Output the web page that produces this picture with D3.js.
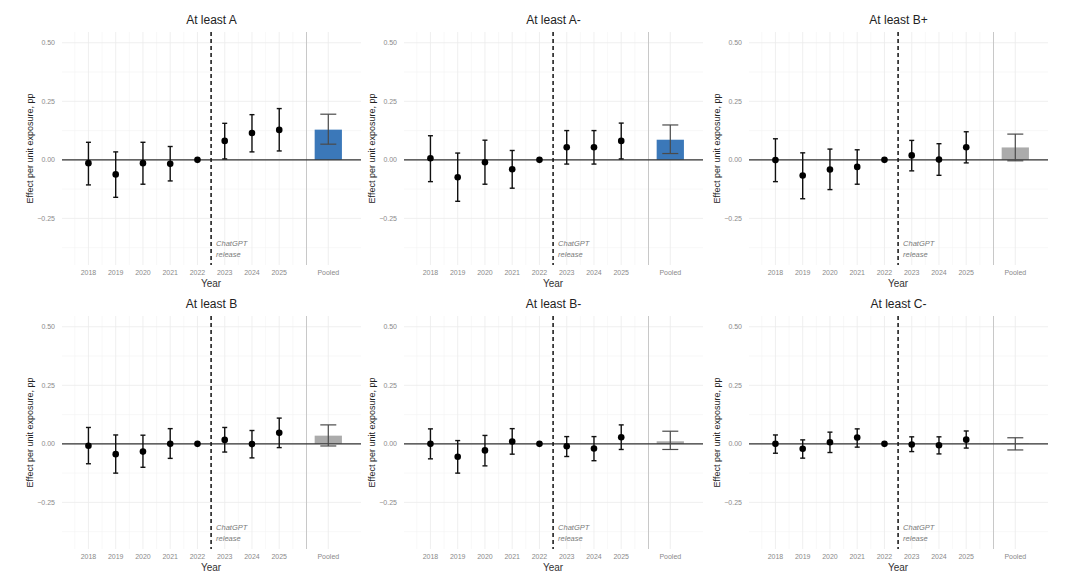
<!DOCTYPE html>
<html>
<head>
<meta charset="utf-8">
<script src="https://cdn.jsdelivr.net/npm/d3@7"></script>
<style>
  body { margin: 0; background: #fff; }
  svg { display: block; font-family: "Liberation Sans", Arial, sans-serif; }
</style>
</head>
<body>
<svg id="mainSvg" width="1080" height="586"></svg>
<script>
// grade thresholds, one panel each
let titles = ["At least A", "At least A-", "At least B+", "At least B", "At least B-", "At least C-"];
let years = [2018, 2019, 2020, 2021, 2022, 2023, 2024, 2025];

// yearly estimates (2022 = reference year, no interval)
let est = [
    [-0.014, -0.062, -0.014, -0.017, 0, 0.081, 0.115, 0.128],
    [0.007, -0.074, -0.010, -0.040, 0, 0.054, 0.054, 0.081],
    [-0.001, -0.067, -0.041, -0.030, 0, 0.019, 0.001, 0.054],
    [-0.008, -0.044, -0.033, 0.000, 0, 0.017, -0.001, 0.047],
    [0.000, -0.055, -0.028, 0.010, 0, -0.010, -0.020, 0.028],
    [0.000, -0.021, 0.007, 0.027, 0, -0.003, -0.006, 0.018],
];
let lo = [
    [-0.107, -0.160, -0.104, -0.090, null, 0.004, 0.034, 0.038],
    [-0.093, -0.177, -0.104, -0.121, null, -0.018, -0.018, 0.004],
    [-0.093, -0.166, -0.127, -0.104, null, -0.047, -0.066, -0.013],
    [-0.085, -0.125, -0.100, -0.062, null, -0.035, -0.060, -0.016],
    [-0.064, -0.125, -0.094, -0.044, null, -0.054, -0.072, -0.024],
    [-0.040, -0.061, -0.037, -0.014, null, -0.033, -0.043, -0.018],
];
let hi = [
    [0.075, 0.034, 0.075, 0.057, null, 0.156, 0.193, 0.219],
    [0.103, 0.029, 0.084, 0.040, null, 0.125, 0.125, 0.157],
    [0.090, 0.030, 0.046, 0.043, null, 0.083, 0.069, 0.120],
    [0.070, 0.038, 0.037, 0.065, null, 0.070, 0.057, 0.110],
    [0.064, 0.014, 0.036, 0.065, null, 0.031, 0.031, 0.081],
    [0.038, 0.017, 0.050, 0.064, null, 0.030, 0.030, 0.055],
];

// pooled post-period effect
let pooledEst = [0.129, 0.086, 0.053, 0.035, 0.011, 0.002];
let pooledLo = [0.067, 0.027, -0.004, -0.009, -0.024, -0.026];
let pooledHi = [0.195, 0.149, 0.110, 0.081, 0.054, 0.026];

let yTicks = [-0.25, 0, 0.25, 0.5];

// layout
let panelLeft = [62, 404, 749];
let panelTop = [32, 316];
let pw = 299, ph = 233;
let pooledX = 2026.8, sepX = 2026, releaseX = 2022.5;

let svg = d3.select("#mainSvg");

let drawPanel = function (k) {
    let col = k % 3, row = Math.floor(k / 3);
    let g = svg.append("g")
        .attr("transform", `translate(${panelLeft[col]},${panelTop[row]})`);

    let x = d3.scaleLinear().domain([2017.03, 2028.0]).range([0, pw]);
    let y = d3.scaleLinear().domain([-0.449, 0.546]).range([ph, 0]);

    // grid: minor then major
    let minorY = [-0.375, -0.125, 0.125, 0.375];
    g.selectAll(".gym").data(minorY).join("line")
        .attr("x1", 0).attr("x2", pw)
        .attr("y1", (d) => y(d)).attr("y2", (d) => y(d))
        .attr("stroke", "#f4f4f4").attr("stroke-width", 0.6);
    let minorX = years.map((d) => d + 0.5).concat([2017.5]);
    g.selectAll(".gxm").data(minorX).join("line")
        .attr("x1", (d) => x(d)).attr("x2", (d) => x(d))
        .attr("y1", 0).attr("y2", ph)
        .attr("stroke", "#f4f4f4").attr("stroke-width", 0.6);
    g.selectAll(".gy").data(yTicks).join("line")
        .attr("x1", 0).attr("x2", pw)
        .attr("y1", (d) => y(d)).attr("y2", (d) => y(d))
        .attr("stroke", "#ebebeb").attr("stroke-width", 0.8);
    g.selectAll(".gx").data(years.concat([pooledX])).join("line")
        .attr("x1", (d) => x(d)).attr("x2", (d) => x(d))
        .attr("y1", 0).attr("y2", ph)
        .attr("stroke", "#ebebeb").attr("stroke-width", 0.8);

    // y tick labels
    g.selectAll(".yt").data(yTicks).join("text")
        .attr("x", -7).attr("y", (d) => y(d)).attr("dy", "0.35em")
        .attr("text-anchor", "end").attr("font-size", 7).attr("fill", "#8a8a8a")
        .text((d) => d3.format(".2f")(d));

    // x tick labels
    g.selectAll(".xt").data(years).join("text")
        .attr("x", (d) => x(d)).attr("y", ph + 10)
        .attr("text-anchor", "middle").attr("font-size", 7).attr("fill", "#8a8a8a")
        .text((d) => d);
    g.append("text")
        .attr("x", x(pooledX)).attr("y", ph + 10)
        .attr("text-anchor", "middle").attr("font-size", 7).attr("fill", "#8a8a8a")
        .text("Pooled");

    // separator before pooled
    g.append("line")
        .attr("x1", x(sepX)).attr("x2", x(sepX))
        .attr("y1", 0).attr("y2", ph)
        .attr("stroke", "#c8c8c8").attr("stroke-width", 1);

    // pooled bar
    let sig = pooledLo[k] > 0;
    let bw = x(2027.3) - x(2026.3);
    let y0 = y(0), yb = y(pooledEst[k]);
    g.append("rect")
        .attr("x", x(pooledX) - bw / 2).attr("width", bw)
        .attr("y", Math.min(y0, yb)).attr("height", Math.abs(y0 - yb))
        .attr("fill", sig ? "#3b78b9" : "#ababab");

    // zero line
    g.append("line")
        .attr("x1", 0).attr("x2", pw)
        .attr("y1", y0).attr("y2", y0)
        .attr("stroke", "#333").attr("stroke-width", 1.2);

    // pooled error bar
    let pc = x(pooledX), cw = 8;
    let pe = g.append("g").attr("stroke", "#4a4a4a").attr("stroke-width", 1.2);
    pe.append("line").attr("x1", pc).attr("x2", pc)
        .attr("y1", y(pooledLo[k])).attr("y2", y(pooledHi[k]));
    [pooledLo[k], pooledHi[k]].forEach((v) => {
        pe.append("line").attr("x1", pc - cw).attr("x2", pc + cw)
            .attr("y1", y(v)).attr("y2", y(v));
    });

    // release line
    g.append("line")
        .attr("x1", x(releaseX)).attr("x2", x(releaseX))
        .attr("y1", 0).attr("y2", ph)
        .attr("stroke", "#111").attr("stroke-width", 1.5)
        .attr("stroke-dasharray", "4,3");
    let note = g.append("text")
        .attr("font-size", 7.5).attr("font-style", "italic").attr("fill", "#7a7a7a");
    note.append("tspan").attr("x", x(releaseX) + 5).attr("y", ph - 19).text("ChatGPT");
    note.append("tspan").attr("x", x(releaseX) + 5).attr("y", ph - 8).text("release");

    // yearly estimates
    let pts = years.map((yr, i) => ({ yr: yr, e: est[k][i], lo: lo[k][i], hi: hi[k][i] }));
    let withCi = pts.filter((d) => d.lo !== null);
    g.selectAll(".eb").data(withCi).join("line")
        .attr("x1", (d) => x(d.yr)).attr("x2", (d) => x(d.yr))
        .attr("y1", (d) => y(d.lo)).attr("y2", (d) => y(d.hi))
        .attr("stroke", "#111").attr("stroke-width", 1.4);
    ["lo", "hi"].forEach((key) => {
        g.selectAll(".cap" + key).data(withCi).join("line")
            .attr("x1", (d) => x(d.yr) - 2.5).attr("x2", (d) => x(d.yr) + 2.5)
            .attr("y1", (d) => y(d[key])).attr("y2", (d) => y(d[key]))
            .attr("stroke", "#111").attr("stroke-width", 1.4);
    });
    g.selectAll(".pt").data(pts).join("circle")
        .attr("cx", (d) => x(d.yr)).attr("cy", (d) => y(d.e))
        .attr("r", 3.3).attr("fill", "#000");

    // titles
    g.append("text")
        .attr("x", pw / 2).attr("y", -8)
        .attr("text-anchor", "middle").attr("font-size", 12).attr("fill", "#222")
        .text(titles[k]);
    g.append("text")
        .attr("x", x(releaseX)).attr("y", ph + 22)
        .attr("text-anchor", "middle").attr("font-size", 10).attr("fill", "#333")
        .text("Year");
    g.append("text")
        .attr("transform", `translate(-29,${ph / 2}) rotate(-90)`)
        .attr("text-anchor", "middle").attr("font-size", 9).attr("fill", "#222")
        .text("Effect per unit exposure, pp");
};

for (let k = 0; k < 6; k++) {
    drawPanel(k);
}
</script>
</body>
</html>
